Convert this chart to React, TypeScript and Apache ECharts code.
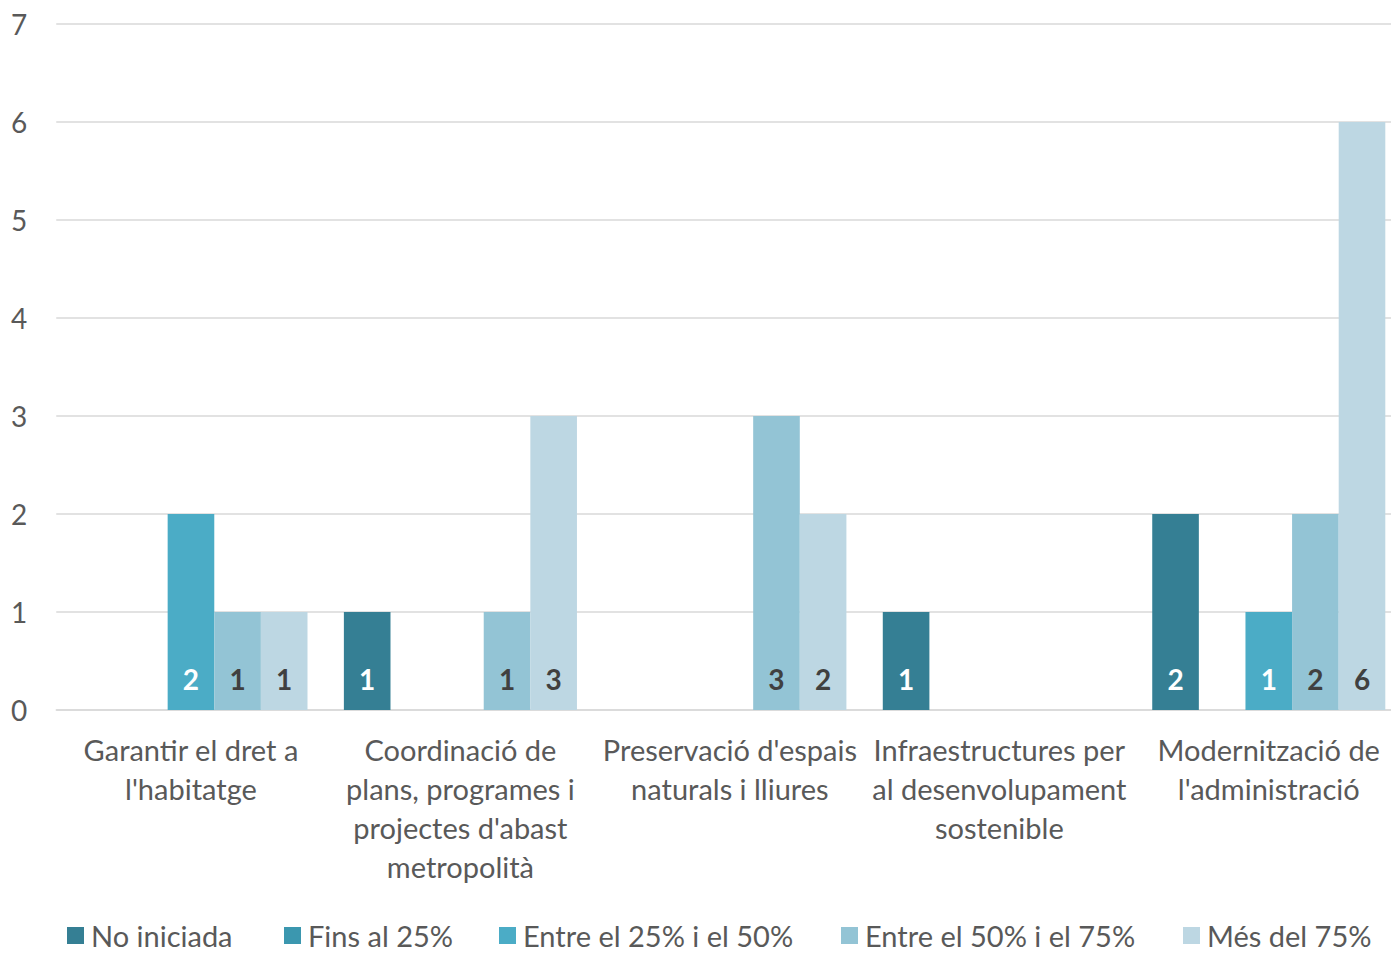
import React, { useEffect, useRef } from "react";
import * as echarts from "echarts";

const categories = [
  "Garantir el dret a\nl'habitatge",
  "Coordinació de\nplans, programes i\nprojectes d'abast\nmetropolità",
  "Preservació d'espais\nnaturals i lliures",
  "Infraestructures per\nal desenvolupament\nsostenible",
  "Modernització de\nl'administració",
];
const seriesNames = [
  "No iniciada",
  "Fins al 25%",
  "Entre el 25% i el 50%",
  "Entre el 50% i el 75%",
  "Més del 75%",
];
const noIniciada = [0, 1, 0, 1, 2];
const fins25 = [0, 0, 0, 0, 0];
const entre25_50 = [2, 0, 0, 0, 1];
const entre50_75 = [1, 1, 3, 0, 2];
const mes75 = [1, 3, 2, 0, 6];
const yTicks = [0, 1, 2, 3, 4, 5, 6, 7];

const seriesValues = [noIniciada, fins25, entre25_50, entre50_75, mes75];
const colors = ["#357F94", "#3B97AF", "#4BACC6", "#93C4D5", "#BDD7E3"];
const labelColors = ["#FFFFFF", "#FFFFFF", "#FFFFFF", "#404040", "#404040"];
const legendLefts = [59, 276, 491, 833, 1175];

const FONT = "Lato, 'Noto Sans', sans-serif";

export default function App() {
  const ref = useRef<HTMLDivElement>(null);
  useEffect(() => {
    if (!ref.current) return;
    const chart = echarts.init(ref.current, undefined, { renderer: "svg" });
    chart.setOption({
      animation: false,
      textStyle: { fontFamily: FONT },
      grid: { left: 48, right: 24.5, top: 16, bottom: 243, containLabel: false },
      legend: seriesNames.map((n, i) => ({
        data: [n],
        left: legendLefts[i],
        top: 913,
        itemWidth: 17,
        itemHeight: 17,
        itemGap: 8,
        icon: "rect",
        padding: 0,
        textStyle: {
          fontSize: 29,
          lineHeight: 24,
          color: "#595959",
          fontFamily: FONT,
          padding: [0, 0, 0, 2],
        },
      })),
      xAxis: {
        type: "category",
        data: categories,
        axisTick: { show: false },
        axisLine: { lineStyle: { color: "#D9D9D9", width: 1.5 } },
        axisLabel: {
          fontSize: 29,
          color: "#595959",
          lineHeight: 39,
          margin: 20,
          interval: 0,
          fontFamily: FONT,
        },
      },
      yAxis: {
        type: "value",
        min: 0,
        max: 7,
        interval: 1,
        axisLine: { show: false },
        axisTick: { show: false },
        splitLine: { lineStyle: { color: "#D9D9D9", width: 1.5 } },
        axisLabel: {
          fontSize: 28,
          color: "#595959",
          margin: 29,
          fontFamily: FONT,
          formatter: (v: number) => (yTicks.includes(v) ? String(v) : ""),
        },
      },
      series: seriesNames.map((n, i) => ({
        name: n,
        type: "bar",
        data: seriesValues[i],
        barGap: "0%",
        barCategoryGap: "13.5%",
        itemStyle: { color: colors[i] },
        label: {
          show: true,
          position: "insideBottom",
          distance: 17,
          fontSize: 28,
          fontWeight: "bold",
          color: labelColors[i],
          fontFamily: FONT,
          formatter: (p: any) => (p.value ? String(p.value) : ""),
        },
      })),
    });
    return () => chart.dispose();
  }, []);
  return (
    <div
      style={{
        position: "absolute",
        left: 8,
        top: 8,
        width: 1383,
        height: 945,
        overflow: "hidden",
      }}
    >
      <div ref={ref} style={{ width: 1420, height: 945 }} />
    </div>
  );
}
